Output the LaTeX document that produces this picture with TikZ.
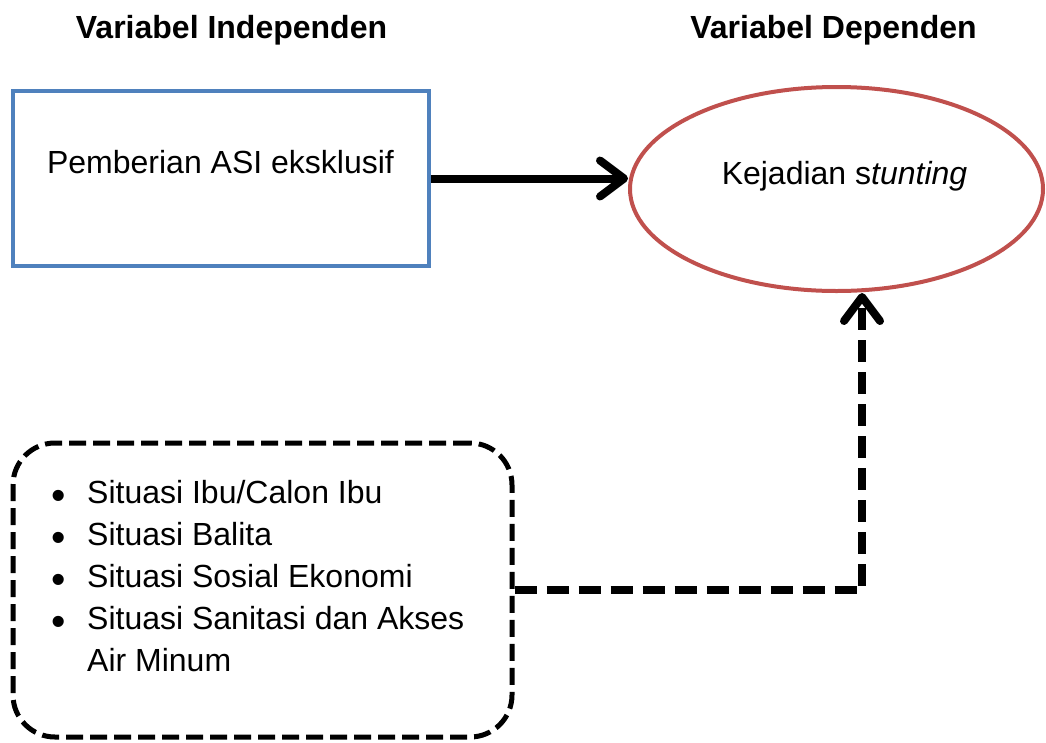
\documentclass[tikz,border=0pt]{standalone}
\usepackage{fontspec}
\setmainfont{Liberation Sans}
\usetikzlibrary{shapes.geometric,arrows.meta,calc}
\definecolor{boxblue}{RGB}{79,129,189}
\definecolor{ellred}{RGB}{192,80,77}
\newcommand\itm{\leavevmode\llap{\raisebox{-6pt}{\fontsize{41}{41}\selectfont •}\hspace{21pt}}}
\begin{document}
\begin{tikzpicture}[x=1pt,y=-1pt,
  title/.style={font=\fontsize{32}{38}\selectfont\bfseries, anchor=base, inner sep=0pt},
  body/.style={font=\fontsize{32}{42}\selectfont, inner sep=0pt},
  indbox/.style={draw=boxblue, line width=4pt, rectangle, minimum width=416pt, minimum height=175pt, inner sep=0pt},
  depell/.style={draw=ellred, line width=4pt, ellipse, minimum width=413pt, minimum height=204pt, inner sep=0pt},
  facbox/.style={draw=black, line width=5pt, rectangle, rounded corners=42pt, dash pattern=on 17pt off 7pt, minimum width=499pt, minimum height=294pt, inner sep=0pt},
  mainarrow/.style={line width=8pt, -{Straight Barb[length=24pt,width=36pt,round]}},
  dasharrow/.style={line width=8pt, dash pattern=on 22pt off 10pt, -{Straight Barb[length=24pt,width=36pt,round]}}
]
\useasboundingbox (0,0) rectangle (1046,742);
\node[title] (t1) at (231.5,38) {Variabel Independen};
\node[title] (t2) at (833.5,38) {Variabel Dependen};
\node[indbox] (ind) at (221,178.5) {};
\node[body, anchor=base] (indtxt) at (220.5,173) {Pemberian ASI eksklusif};
\node[depell] (dep) at (836.5,189) {};
\node[body, anchor=base] (deptxt) at (844.5,184) {Kejadian s\textit{tunting}};
\node[facbox] (fac) at (262.5,590) {};
\node[body, anchor=base west] (facs) at (87,503) {\begin{minipage}[t]{420pt}\raggedright\fontsize{32}{42}\selectfont
\itm Situasi Ibu/Calon Ibu\par
\itm Situasi Balita\par
\itm Situasi Sosial Ekonomi\par
\itm Situasi Sanitasi dan Akses\\
Air Minum\end{minipage}};
\draw[mainarrow] (ind.east) -- (dep.west |- ind.east);
\coordinate (bend) at (862,590);
\draw[dasharrow] (fac.east) -- (bend) -- (bend |- dep.south);
\end{tikzpicture}
\end{document}
